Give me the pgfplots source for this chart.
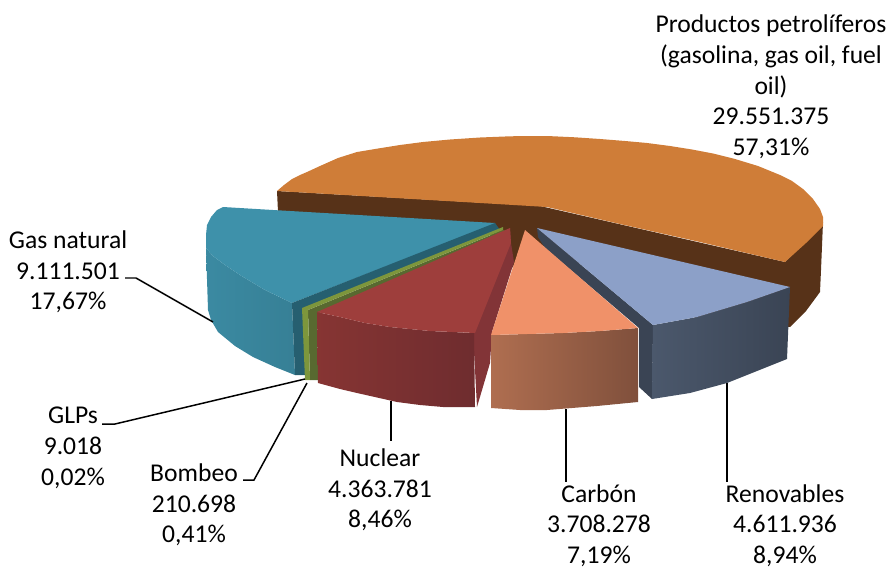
\documentclass[border=0pt]{standalone}
\usepackage{fontspec}
\setmainfont{Carlito}
\usepackage{pgfplots}
\pgfplotsset{compat=1.18}

\definecolor{naranja}{RGB}{207,125,56}
\definecolor{marron}{RGB}{87,50,24}
\definecolor{teal1}{RGB}{62,145,170}
\definecolor{teal2}{RGB}{38,95,112}
\definecolor{verde1}{RGB}{125,150,60}
\definecolor{verde2}{RGB}{88,105,48}
\definecolor{rojo1}{RGB}{158,62,60}
\definecolor{rojo2}{RGB}{130,52,55}
\definecolor{salmon1}{RGB}{240,145,105}
\definecolor{salmon2}{RGB}{175,110,80}
\definecolor{salmon3}{RGB}{128,80,60}
\definecolor{azul1}{RGB}{140,160,200}
\definecolor{azul2}{RGB}{58,68,84}
\definecolor{azul3}{RGB}{75,88,108}

\tikzset{
	lbl/.style={align=center, font=\fontsize{25.7}{30.8}\selectfont, text=black, inner sep=0pt},
	guia/.style={black, line width=1.5pt},
}

\begin{document}
\begin{tikzpicture}
	\begin{axis}[
		hide axis,
		scale only axis,
		width=891bp, height=571bp,
		xmin=0, xmax=891,
		ymin=0, ymax=571,
		y dir=reverse,
		clip=false,
		no marks,
		]
		% hide axis no reserva el marco: fijar el tamano de la pagina
		\path (axis cs:0,0) rectangle (axis cs:891,571);

		% Productos petroliferos: pared oscura y cara superior
		\addplot[draw=none, fill=marron] coordinates {(277,191) (540,206) (785,262) (823,222) (821,270) (820,292) (806,311) (790,327) (700,320) (530,240) (512,268) (490,235) (495,226) (278,212)} --cycle;
		\addplot[draw=none, fill=naranja] coordinates {(277,191) (284,185) (292,179) (300,175) (307,172) (320,166) (338,158) (357,152) (375,149) (400,145) (423,142) (450,139.5) (480,137.5) (510,136.3) (530,136) (547,136) (575,137.3) (600,139) (625,141) (647,143) (670,146) (692,149.5) (713,153.5) (735,159) (758,166) (780,175) (792,181) (803,189) (813,199) (820,209) (823,217) (823,226) (806,243) (785,262) (700,242) (620,224) (547,207) (480,203)} --cycle;

		% Gas natural
		\addplot[draw=none, left color=teal1!95!black, right color=teal1!88!black] coordinates {(206,248) (208,310) (211,320) (218,332) (235,346) (253,357) (275,367) (295,375) (292,303) (265,290) (240,275) (225,265) (213,256)} --cycle;
		\addplot[draw=none, fill=teal1] coordinates {(223,207) (217,210) (211,217) (207,225) (206,235) (206,248) (213,256) (225,265) (240,275) (265,290) (292,303) (495,224) (495,223) (273,210)} --cycle;
		\addplot[draw=none, fill=teal2] coordinates {(292,303) (495,223) (500,230) (304,310) (305,375) (295,375)} --cycle;

		% GLPs y Bombeo
		\addplot[draw=none, fill=verde2] coordinates {(308,310) (503,230) (510,232) (317,314) (318,380) (310,380)} --cycle;
		\addplot[draw=none, fill=verde1] coordinates {(302,308) (503,227) (503,230) (308,310) (310,380) (305,380)} --cycle;

		% Nuclear
		\addplot[draw=none, fill=rojo2] coordinates {(510,228) (511,243) (514,262) (492,332) (490,363) (477,407) (473,333)} --cycle;
		\addplot[draw=none, left color=rojo1!85!black, right color=rojo2!85!black] coordinates {(317,312) (318,383) (340,389) (357,393) (397,402) (420,405) (443,407) (475,407) (474,333) (430,331) (390,327) (365,323) (340,317)} --cycle;
		\addplot[draw=none, fill=rojo1] coordinates {(317,312) (510,228) (511,243) (475,333) (430,331) (390,327) (365,323) (340,317)} --cycle;

		% Renovables
		\addplot[draw=none, fill=azul2] coordinates {(537,228) (653,325) (652,399) (639,387) (639,328) (545,248) (538,237)} --cycle;
		\addplot[draw=none, left color=azul3, middle color=azul2, right color=azul2] coordinates {(653,325) (652,399) (690,393) (727,383) (787,359) (790,287) (747,302) (697,317)} --cycle;
		\addplot[draw=none, fill=azul1] coordinates {(537,228) (790,287) (747,302) (697,317) (653,325)} --cycle;

		% Carbon
		\addplot[draw=none, left color=salmon2, right color=salmon3] coordinates {(491,335) (491,408) (520,410) (547,410) (597,406) (638,402) (638,328) (600,331) (563,333)} --cycle;
		\addplot[draw=none, fill=salmon1] coordinates {(525,230) (638,328) (600,331) (563,333) (491,335)} --cycle;

		% lineas guia
		\addplot[guia] coordinates {(125,278) (136,278) (213,322)};
		\addplot[guia] coordinates {(102,424) (115,424) (305,379)};
		\addplot[guia] coordinates {(243,480) (254,480) (307,383)};
		\addplot[guia] coordinates {(391,401) (391,441)};
		\addplot[guia] coordinates {(566,409) (566,482)};
		\addplot[guia] coordinates {(727,383) (727,482)};

		% etiquetas
		\node[lbl] at (axis cs:771,87) {Productos petrolíferos\\(gasolina, gas oil, fuel\\oil)\\29.551.375\\57,31\%};
		\node[lbl] at (axis cs:68,272) {Gas natural\\9.111.501\\17,67\%};
		\node[lbl] at (axis cs:73,448) {GLPs\\9.018\\0,02\%};
		\node[lbl] at (axis cs:194,505) {Bombeo\\210.698\\0,41\%};
		\node[lbl] at (axis cs:380,490) {Nuclear\\4.363.781\\8,46\%};
		\node[lbl, anchor=south] at (axis cs:599,567) {Carbón\\3.708.278\\7,19\%};
		\node[lbl, anchor=south] at (axis cs:785,567) {Renovables\\4.611.936\\8,94\%};
	\end{axis}
\end{tikzpicture}
\end{document}
